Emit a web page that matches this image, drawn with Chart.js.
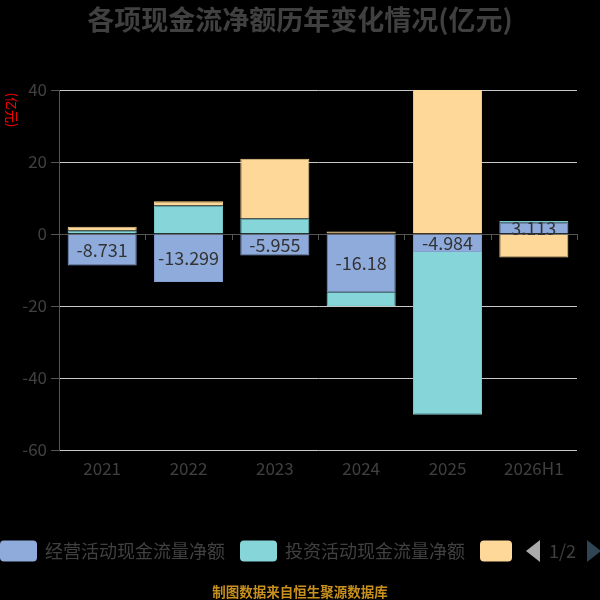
<!DOCTYPE html>
<html>
<head>
<meta charset="utf-8">
<script src="https://cdn.jsdelivr.net/npm/chart.js@4/dist/chart.umd.min.js"></script>
<style>
  html, body { margin: 0; padding: 0; background: #000; }
  canvas { display: block; }
</style>
</head>
<body>
<canvas id="myChart" width="600" height="600"></canvas>
<script>
// data
var categories = ['2021', '2022', '2023', '2024', '2025', '2026H1'];
var operating = [-8.731, -13.299, -5.955, -16.18, -4.984, 3.113];
var investing = [1.0, 7.9, 4.3, -3.8, -45.2, 0.5];
var financing = [1.0, 1.2, 16.6, 0.7, 42, -6.5];
var seriesNames = ['经营活动现金流量净额', '投资活动现金流量净额', '筹资活动现金流量净额'];
var yTicks = [40, 20, 0, -20, -40, -60];

var titleText = '各项现金流净额历年变化情况(亿元)';
var unitText = '(亿元)';
var sourceText = '制图数据来自恒生聚源数据库';
var pageText = '1/2';

var colors = ['#8eabdc', '#86d5d8', '#fdd899'];
var borders = ['#84a0d0', '#7ccbce', '#f2cd8e'];
var textColor = '#404040';
var cjk = '"Noto Sans CJK SC", "Noto Sans", sans-serif';

// title, unit, zero ticks, value labels, legend, footnote
var extras = {
  id: 'extras',
  beforeDatasetsDraw: function(chart) {
    var c = chart.ctx, area = chart.chartArea;
    var y0 = chart.scales.y.getPixelForValue(0);
    var step = (area.right - area.left) / categories.length;
    c.save();
    c.strokeStyle = '#555';
    c.lineWidth = 1;
    for (var i = 0; i <= categories.length; i++) {
      var x = Math.round(area.left + i * step) + 0.5;
      c.beginPath();
      c.moveTo(x, y0);
      c.lineTo(x, y0 + 6);
      c.stroke();
    }
    c.restore();
  },
  afterDatasetsDraw: function(chart) {
    var c = chart.ctx;
    var meta = chart.getDatasetMeta(0);
    c.save();
    c.font = '18px ' + cjk;
    c.fillStyle = '#333';
    c.textAlign = 'center';
    c.textBaseline = 'middle';
    for (var i = 0; i < operating.length; i++) {
      var bar = meta.data[i];
      c.fillText(String(operating[i]), bar.x, (bar.y + bar.base) / 2);
    }
    c.restore();
  },
  afterDraw: function(chart) {
    var c = chart.ctx;
    c.save();
    // title
    c.font = 'bold 27px ' + cjk;
    c.fillStyle = textColor;
    c.textAlign = 'center';
    c.textBaseline = 'middle';
    c.fillText(titleText, 300, 20);

    // unit, reading top to bottom
    c.save();
    c.translate(12, 110);
    c.rotate(Math.PI / 2);
    c.font = '13px ' + cjk;
    c.fillStyle = '#ff0000';
    c.fillText(unitText, 0, 0);
    c.restore();

    // legend page 1
    c.font = '18px ' + cjk;
    c.textAlign = 'left';
    var x = 0, ly = 551;
    for (var i = 0; i < seriesNames.length; i++) {
      var w = i < 2 ? 37 : 32;
      c.fillStyle = colors[i];
      c.beginPath();
      c.roundRect(x, ly - 10.5, w, 21, 4);
      c.fill();
      x += w;
      if (i < 2) {
        c.fillStyle = textColor;
        c.fillText(seriesNames[i], x + 8, ly);
        x += 8 + c.measureText(seriesNames[i]).width + 15;
      }
    }
    // pager
    c.fillStyle = '#aaaaaa';
    c.beginPath();
    c.moveTo(540, 540); c.lineTo(526, 551); c.lineTo(540, 562); c.closePath();
    c.fill();
    c.fillStyle = textColor;
    c.fillText(pageText, 549, ly);
    c.fillStyle = '#2f4554';
    c.beginPath();
    c.moveTo(587, 540); c.lineTo(601, 551); c.lineTo(587, 562); c.closePath();
    c.fill();

    // footnote
    c.font = 'bold 13.5px ' + cjk;
    c.fillStyle = '#c8901c';
    c.textAlign = 'center';
    c.fillText(sourceText, 300, 592);
    c.restore();
  }
};

var data = {
  labels: categories,
  datasets: [operating, investing, financing].map(function(vals, i) {
    return {
      label: seriesNames[i],
      data: vals,
      backgroundColor: colors[i],
      borderColor: borders[i],
      borderWidth: 1,
      barPercentage: 0.8,
      categoryPercentage: 1.0
    };
  })
};

var config = {
  type: 'bar',
  data: data,
  plugins: [extras],
  options: {
    responsive: false,
    animation: false,
    layout: { padding: { left: 0, right: 23, top: 90, bottom: 100 } },
    plugins: {
      legend: { display: false },
      title: { display: false },
      tooltip: { enabled: false }
    },
    scales: {
      x: {
        stacked: true,
        grid: { display: false },
        border: { display: false },
        ticks: { color: textColor, font: { size: 17, family: cjk }, padding: 0, maxRotation: 0 },
        afterFit: function(scale) { scale.height = 50; }
      },
      y: {
        stacked: true,
        min: -60,
        max: 40,
        afterBuildTicks: function(scale) {
          scale.ticks = yTicks.map(function(v) { return { value: v }; });
        },
        grid: {
          color: function(ctx) { return ctx.tick && ctx.tick.value === 0 ? '#555' : '#c8c8c8'; },
          tickColor: '#555',
          tickLength: 8
        },
        border: { color: '#555' },
        ticks: { color: textColor, font: { size: 17, family: cjk }, padding: 4 },
        afterFit: function(scale) { scale.width = 59; }
      }
    }
  }
};

var myChart = new Chart(document.getElementById('myChart'), config);
</script>
</body>
</html>
